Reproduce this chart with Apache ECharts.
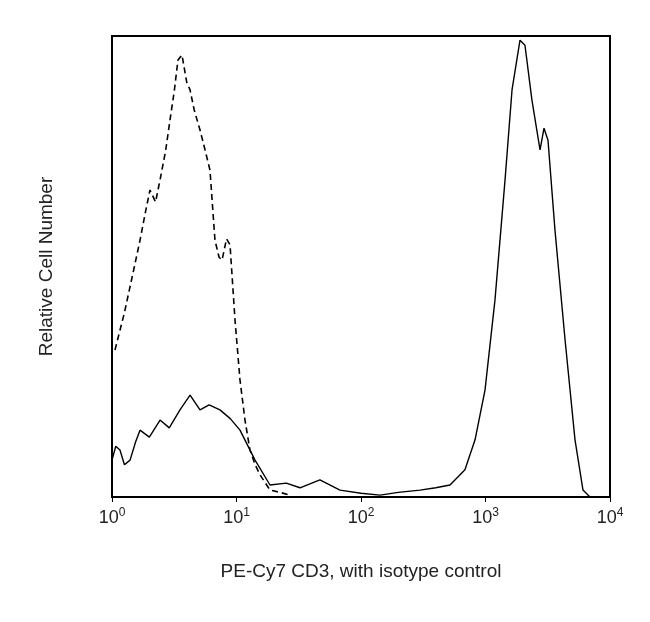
<!DOCTYPE html>
<html><head><meta charset="utf-8">
<script src="https://cdn.jsdelivr.net/npm/echarts@6/dist/echarts.min.js"></script>
<style>html,body{margin:0;padding:0;background:#fff}#c{width:650px;height:622px}</style>
</head><body><div id="c"></div>
<script>
// log10 of fluorescence, relative cell number (0-100)
const isoX = [0.024,0.10,0.18,0.225,0.27,0.305,0.35,0.386,0.43,0.466,0.50,0.53,0.562,0.60,0.627,0.66,0.707,0.75,0.787,0.827,0.86,0.884,0.92,0.948,0.988,1.028,1.068,1.108,1.15,1.189,1.269,1.35,1.43];
const isoY = [31.9,40,50,55.7,62,66.6,64,68.8,75,81.8,88,94.8,95.9,90,88.3,84,79.6,75,70.9,55.7,52,51.4,56,54.7,38.4,25.4,16.7,10.2,7,4.8,1.5,1.0,0.4];
const cd3X = [0,0.03,0.064,0.10,0.145,0.19,0.225,0.30,0.386,0.46,0.546,0.627,0.707,0.78,0.867,0.95,1.028,1.149,1.269,1.40,1.51,1.67,1.831,2.0,2.153,2.3,2.474,2.6,2.715,2.835,2.916,2.996,3.076,3.157,3.213,3.277,3.317,3.373,3.438,3.47,3.502,3.558,3.639,3.719,3.783,3.839];
const cd3Y = [8.0,11,10.2,7,8.0,12,14.5,13,16.7,15,18.9,22.1,18.9,20,18.9,17,14.5,8.0,2.6,3,2.0,3.7,1.5,0.8,0.4,1,1.5,2,2.6,5.9,12.4,23.2,42.7,68.8,88.3,99.1,98.0,86.1,75.3,80,77.4,57.9,34.1,12.4,1.5,0];
const tickLabels = ['10{s|0}','10{s|1}','10{s|2}','10{s|3}','10{s|4}'];
const pair = (xs, ys) => xs.map((x, i) => [x, ys[i]]);
const F = 'Liberation Sans, Arial, sans-serif';
const chart = echarts.init(document.getElementById('c'));
chart.setOption({
  animation: false,
  grid: {left: 112, right: 40, top: 36, bottom: 125, show: true, borderColor: '#000', borderWidth: 2},
  xAxis: {type: 'value', min: 0, max: 4, interval: 1,
    axisLine: {show: true, lineStyle: {color: '#000', width: 2}},
    axisTick: {show: true, length: 5, lineStyle: {color: '#000'}},
    splitLine: {show: false},
    axisLabel: {margin: 10, color: '#222', fontFamily: F, fontSize: 18,
      formatter: v => tickLabels[Math.round(v)],
      rich: {s: {fontSize: 12, verticalAlign: 'top', padding: [0,0,10,0], fontFamily: F, color: '#222'}}},
    name: 'PE-Cy7 CD3, with isotype control', nameLocation: 'middle', nameGap: 65,
    nameTextStyle: {fontFamily: F, fontSize: 19, color: '#222'}},
  yAxis: {type: 'value', min: 0, max: 100,
    axisLine: {show: true, lineStyle: {color: '#000', width: 2}},
    axisTick: {show: false}, axisLabel: {show: false}, splitLine: {show: false},
    name: 'Relative Cell Number', nameLocation: 'middle', nameGap: 56,
    nameTextStyle: {fontFamily: F, fontSize: 19, color: '#222'}},
  series: [
    {type: 'line', data: pair(isoX, isoY), symbol: 'none',
     lineStyle: {color: '#000', width: 1.6, type: [6, 4]}},
    {type: 'line', data: pair(cd3X, cd3Y), symbol: 'none',
     lineStyle: {color: '#000', width: 1.4}}
  ]
});
</script></body></html>
